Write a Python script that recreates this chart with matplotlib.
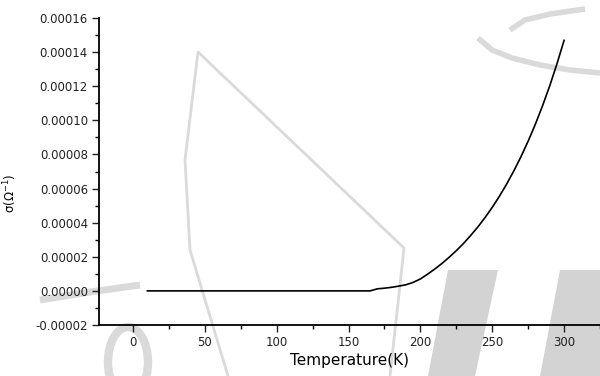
import numpy as np
import matplotlib.pyplot as plt
from matplotlib.ticker import MultipleLocator, FormatStrFormatter
from matplotlib.patches import Polygon, Ellipse
from matplotlib.lines import Line2D

# conductivity vs temperature
temperature = [10, 50, 100, 150, 165, 170, 175, 180, 185, 190, 195, 200,
               205, 210, 215, 220, 225, 230, 235, 240, 245, 250, 255, 260,
               265, 270, 275, 280, 285, 290, 295, 300]
sigma = [0.0, 0.0, 0.0, 0.0, 0.0, 0.0000012, 0.0000016, 0.0000021,
         0.0000028, 0.0000036, 0.000005, 0.000007, 0.0000098, 0.0000128,
         0.0000161, 0.0000197, 0.0000236, 0.0000278, 0.0000325, 0.0000375,
         0.000043, 0.000049, 0.0000555, 0.0000626, 0.0000703, 0.0000787,
         0.0000878, 0.0000977, 0.0001085, 0.0001202, 0.000133, 0.0001469]

W, H = 600, 376
fig = plt.figure(figsize=(W / 100, H / 100), dpi=100)


def px(x, y):
    # pixel coords of the reference -> figure fraction
    return (x / W, 1 - y / H)


def wm_line(points, lw):
    xs, ys = zip(*[px(x, y) for x, y in points])
    fig.lines.append(Line2D(xs, ys, transform=fig.transFigure,
                            color='#dadada', linewidth=lw, zorder=0,
                            solid_capstyle='butt'))


# faint watermark behind the plot
wm_line([(228, 376), (190, 250), (185, 160), (198, 52), (404, 248),
         (390, 376)], 2)
wm_line([(478, 38), (492, 50), (512, 58), (540, 65), (570, 70),
         (600, 73)], 4)
wm_line([(510, 30), (525, 20), (550, 14), (585, 9)], 4)
wm_line([(40, 300), (90, 292), (140, 285)], 5)
band = dict(transform=fig.transFigure, zorder=0, facecolor='#d3d3d3',
            edgecolor='none')
fig.patches.append(Polygon([px(448, 270), px(498, 270), px(475, 376),
                            px(428, 376)], **band))
fig.patches.append(Polygon([px(560, 270), px(600, 270), px(600, 376),
                            px(540, 376)], **band))
fig.patches.append(Ellipse(px(128, 362), 40 / W, 70 / H, fill=False,
                           transform=fig.transFigure, edgecolor='#dadada',
                           linewidth=6, zorder=0))

ax = fig.add_axes([99 / W, 1 - 325 / H, 1 - 99 / W, (325 - 18) / H])
ax.set_zorder(1)
ax.patch.set_alpha(0)
ax.plot(temperature, sigma, color='black', linewidth=1.2)

ax.set_xlim(-23.7, 325)
ax.set_ylim(-0.00002, 0.00016)
ax.xaxis.set_major_locator(MultipleLocator(50))
ax.xaxis.set_minor_locator(MultipleLocator(25))
ax.yaxis.set_major_locator(MultipleLocator(0.00002))
ax.yaxis.set_minor_locator(MultipleLocator(0.00001))
ax.yaxis.set_major_formatter(FormatStrFormatter('%.5f'))

for side in ['top', 'right']:
    ax.spines[side].set_visible(False)
for side in ['left', 'bottom']:
    ax.spines[side].set_linewidth(1.3)

ax.tick_params(which='major', direction='out', length=5, width=1,
               labelsize=8.5, colors='#222222', pad=3)
ax.tick_params(which='minor', direction='out', length=3, width=1)

ax.set_xlabel('Temperature(K)', fontsize=11, labelpad=3)
ax.set_ylabel('σ(Ω$^{-1}$)', fontsize=8.5)
ax.yaxis.set_label_coords(-0.16, 0.43)

fig.savefig('out.png', dpi=100)
